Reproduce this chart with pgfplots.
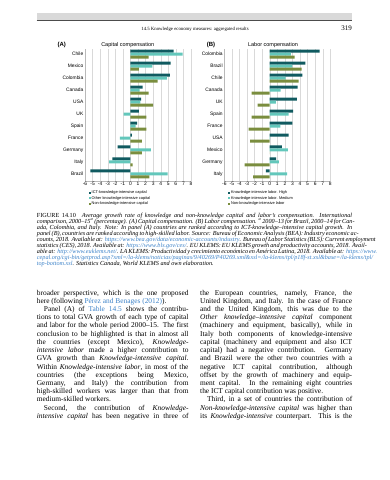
\documentclass[border=0pt]{standalone}
\usepackage{fontspec}
\setmainfont{Liberation Serif}
\newfontfamily\chartfont{Liberation Sans}
\usepackage{pgfplots}
\pgfplotsset{compat=1.18}
\definecolor{ictc}{RGB}{16,90,96}
\definecolor{othc}{RGB}{99,199,187}
\definecolor{nonc}{RGB}{122,141,62}
\definecolor{linkc}{RGB}{60,130,200}
\newcommand\jl[1]{\hbox to \hsize{#1}}
\newcommand\lastl[1]{\hbox to \hsize{#1\hfil}}
\newcommand\lk[1]{\textcolor{linkc}{#1}}
\pgfplotsset{panel/.style={
  scale only axis, width=106pt, height=131.7pt,
  xmin=-6, xmax=8, ymin=-0.56, ymax=10.42,
  xtick={-6,...,8}, ytick={0,...,10},
  xmajorgrids, grid style={draw=gray!30, line width=0.4pt},
  axis lines*=left, axis line style={draw=gray!55, line width=0.4pt},
  major tick length=0pt,
  /pgf/number format/assume math mode=true,
  tick label style={font=\chartfont\fontsize{4.9}{5}\selectfont},
  yticklabel style={inner sep=1.5pt},
  xticklabel style={inner sep=1.5pt},
  legend cell align=left,
  legend image code/.code={\fill[##1] (0pt,-1pt) rectangle (2pt,1pt);},
  legend style={at={(rel axis cs:0,0)}, anchor=north west, xshift=3.7pt, yshift=-9.3pt,
    draw=none, fill=none, inner sep=0pt,
    font=\chartfont\fontsize{3.9}{4.5}\selectfont,
    nodes={inner sep=0.8pt, text height=2.9pt, text depth=0.9pt}},
  bars/.style={xbar, bar shift=0pt, bar width=3pt, draw=none},
}}
\begin{document}
\begin{tikzpicture}[x=1pt,y=-1pt]
\useasboundingbox (0,0) rectangle (389,480);
% header
\fill[gray!30] (36.7,13.3) rectangle (352.3,20.2);
\draw[black!70, line width=0.5pt] (36.7,20.4) -- (352.3,20.4);
\node[anchor=base, inner sep=0, font=\fontsize{4.8}{5}\selectfont] at (195,30) {14.5 Knowledge economy measures: aggregated results};
\node[anchor=base east, inner sep=0, font=\fontsize{7}{8}\selectfont] at (352,30.5) {319};
% titles
\node[font=\chartfont\bfseries\fontsize{6}{7}\selectfont, inner sep=0] at (61.7,44.7) {(A)};
\node[font=\chartfont\fontsize{5.5}{6}\selectfont, inner sep=0] at (127.7,44.7) {Capital compensation};
\node[font=\chartfont\bfseries\fontsize{6}{7}\selectfont, inner sep=0] at (211,44.7) {(B)};
\node[font=\chartfont\fontsize{5.5}{6}\selectfont, inner sep=0] at (273,44.7) {Labor compensation};
% panel A  (rows: Brazil=0 ... Chile=10; dark at +0.25, teal at 0, olive at -0.25)
\begin{axis}[panel, at={(85pt,-49pt)}, anchor=north west,
  yticklabels={Brazil,Italy,Germany,France,Spain,UK,USA,Canada,Colombia,Mexico,Chile}]
\addplot[bars, fill=ictc] coordinates {
(-5.3,0.25) (-2.4,1.25) (-1.7,2.25) (0.2,3.25) (0.9,4.25) (1.1,5.25) (1.4,6.25) (1.6,7.25) (5.2,8.25) (5.3,9.25) (5.7,10.25)};
\addplot[bars, fill=othc] coordinates {
(4.9,0) (-2.8,1) (2.7,2) (-1.4,3) (0.7,4) (-0.9,5) (1.3,6) (1.2,7) (4.8,8) (2.9,9) (6.9,10)};
\addplot[bars, fill=nonc] coordinates {
(2.5,-0.25) (0.3,0.75) (1.5,1.75) (1.5,2.75) (2.1,3.75) (2.1,4.75) (3.0,5.75) (2.4,6.75) (3.6,7.75) (1.1,8.75) (2.4,9.75)};
\legend{ICT-knowledge-intensive capital,Other knowledge-intensive capital,Non-knowledge-intensive capital}
\end{axis}
% panel B  (rows: Italy=0 ... Colombia=10)
\begin{axis}[panel, at={(224.3pt,-49pt)}, anchor=north west,
  yticklabels={Italy,Germany,Mexico,USA,France,Spain,UK,Canada,Chile,Brazil,Colombia}]
\addplot[bars, fill=ictc] coordinates {
(-0.5,0.25) (0.85,1.25) (1.6,2.25) (2.5,3.25) (3.0,4.25) (3.1,5.25) (3.6,6.25) (3.7,7.25) (4.3,8.25) (4.7,9.25) (6.6,10.25)};
\addplot[bars, fill=othc] coordinates {
(2.3,0) (1.2,1) (2.4,2) (0.05,3) (1.4,4) (2.5,5) (0.8,6) (1.45,7) (2.1,8) (3.0,9) (2.8,10)};
\addplot[bars, fill=nonc] coordinates {
(-2.2,-0.25) (-3.3,0.75) (0.0,1.75) (-2.6,2.75) (-2.8,3.75) (-2.4,4.75) (-1.6,5.75) (-2.4,6.75) (3.8,7.75) (4.2,8.75) (3.3,9.75)};
\legend{Knowledge-intensive labor. High,Knowledge-intensive labor. Medium,Non-knowledge-intensive labor}
\end{axis}
% caption
\node[anchor=base west, inner sep=0] at (36.7,217.3) {\vtop{\hsize=315.3pt\fontsize{6.2}{6.0}\selectfont\itshape
\jl{{\upshape FIGURE 14.10}\hspace{6pt}Average growth rate of knowledge and non-knowledge capital and labor's compensation. International}
\jl{comparison, 2000--15\textsuperscript{a} (percentage). (A) Capital compensation. (B) Labor compensation. \textsuperscript{a}\,2000--13 for Brazil, 2000--14 for Can-}
\jl{ada, Colombia, and Italy. Note: In panel (A) countries are ranked according to ICT-knowledge--intensive capital growth. In}
\jl{panel (B), countries are ranked according to high-skilled labor. Source: Bureau of Economic Analysis (BEA): Industry economic ac-}
\jl{counts, 2018. Available at: \lk{https://www.bea.gov/data/economic-accounts/industry}. Bureau of Labor Statistics (BLS): Current employment}
\jl{statistics (CES), 2018. Available at: \lk{https://www.bls.gov/ces/}. EU KLEMS: EU KLEMS growth and productivity accounts, 2018. Avail-}
\jl{able at: \lk{http://www.euklems.net/}. LA KLEMS: Productividad y crecimiento económico en América Latina, 2018. Available at: \lk{https://www.}}
\lastl{\lk{cepal.org/cgi-bin/getprod.asp?xml=/la-klems/noticias/paginas/9/40269/P40269.xml\&xsl=/la-klems/tpl/p18f-st.xsl\&base=/la-klems/tpl/}}
\lastl{\lk{top-bottom.xsl}. Statistics Canada, World KLEMS and own elaboration.}
}};
% body left
\node[anchor=base west, inner sep=0] at (36.7,295) {\vtop{\hsize=151.6pt\fontsize{7.4}{8.23}\selectfont
\jl{broader perspective, which is the one proposed}
\lastl{here (following \lk{Pérez and Benages (2012)}).}
\jl{\kern7pt Panel (A) of \lk{Table 14.5} shows the contribu-}
\jl{tions to total GVA growth of each type of capital}
\jl{and labor for the whole period 2000--15. The first}
\jl{conclusion to be highlighted is that in almost all}
\jl{the countries (except Mexico), \textit{Knowledge-}}
\jl{\textit{intensive labor} made a higher contribution to}
\jl{GVA growth than \textit{Knowledge-intensive capital}.}
\jl{Within \textit{Knowledge-intensive labor}, in most of the}
\jl{countries (the exceptions being Mexico,}
\jl{Germany, and Italy) the contribution from}
\jl{high-skilled workers was larger than that from}
\lastl{medium-skilled workers.}
\jl{\kern7pt Second, the contribution of \textit{Knowledge-}}
\jl{\textit{intensive capital} has been negative in three of}
}};
% body right
\node[anchor=base west, inner sep=0] at (200,295) {\vtop{\hsize=152pt\fontsize{7.4}{8.23}\selectfont
\jl{the European countries, namely, France, the}
\jl{United Kingdom, and Italy. In the case of France}
\jl{and the United Kingdom, this was due to the}
\jl{\textit{Other knowledge--intensive capital} component}
\jl{(machinery and equipment, basically), while in}
\jl{Italy both components of knowledge-intensive}
\jl{capital (machinery and equipment and also ICT}
\jl{capital) had a negative contribution. Germany}
\jl{and Brazil were the other two countries with a}
\jl{negative ICT capital contribution, although}
\jl{offset by the growth of machinery and equip-}
\jl{ment capital. In the remaining eight countries}
\lastl{the ICT capital contribution was positive.}
\jl{\kern7pt Third, in a set of countries the contribution of}
\jl{\textit{Non-knowledge-intensive capital} was higher than}
\jl{its \textit{Knowledge-intensive} counterpart. This is the}
}};
\end{tikzpicture}
\end{document}
